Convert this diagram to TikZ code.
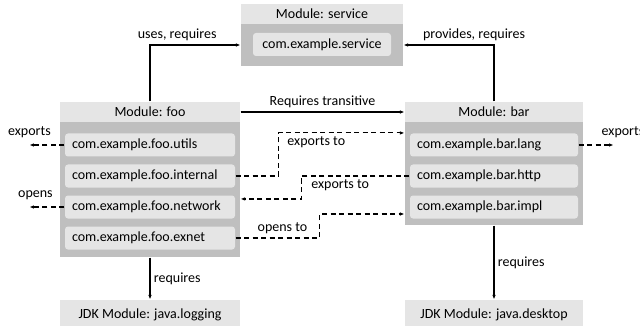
\documentclass[tikz,border=0pt]{standalone}
\usepackage{fontspec}
\setmainfont{Carlito}
\usetikzlibrary{arrows.meta}
\definecolor{headgray}{gray}{0.9}
\definecolor{bodygray}{gray}{0.75}
\definecolor{pkggray}{gray}{0.9}
\begin{document}
\begin{tikzpicture}[x=1pt,y=-1pt,line width=1.1pt,
  >={Latex[length=4.5pt,width=3.5pt]},
  font=\fontsize{14}{16}\selectfont,
  modbody/.style={fill=bodygray,inner sep=0pt},
  modhead/.style={fill=headgray,inner sep=0pt,minimum height=20pt},
  pkg/.style={fill=pkggray,rounded corners=3pt,minimum height=23pt,inner ysep=0pt,
    inner xsep=7pt,align=left},
  jdk/.style={fill=headgray,inner sep=0pt,minimum height=30pt},
  dep/.style={dash pattern=on 5pt off 3.5pt}]
  \useasboundingbox (0,0) rectangle (640,326);
  % service module
  \node[modbody,minimum width=162pt,minimum height=42pt] (svc) at (322,45) {};
  \node[modhead,minimum width=162pt] (svchead) at (322,14) {Module: service};
  \node[pkg,minimum width=138pt,align=center] (service) at (322,44.5) {com.example.service};
  % foo module
  \node[modbody,minimum width=180pt,minimum height=135pt] (foo) at (150,189.5) {};
  \node[modhead,minimum width=180pt] (foohead) at (150,112) {Module: foo};
  \node[pkg,text width=156pt] (utils) at (150,145) {com.example.foo.utils};
  \node[pkg,text width=156pt] (internal) at (150,176) {com.example.foo.internal};
  \node[pkg,text width=156pt] (network) at (150,207) {com.example.foo.network};
  \node[pkg,text width=156pt] (exnet) at (150,238) {com.example.foo.exnet};
  % bar module
  \node[modbody,minimum width=178pt,minimum height=103pt] (bar) at (494,173.5) {};
  \node[modhead,minimum width=178pt] (barhead) at (494,112) {Module: bar};
  \node[pkg,text width=154pt] (lang) at (494,145) {com.example.bar.lang};
  \node[pkg,text width=154pt] (http) at (494,176) {com.example.bar.http};
  \node[pkg,text width=154pt] (impl) at (494,207) {com.example.bar.impl};
  % jdk modules
  \node[jdk,minimum width=180pt] (logging) at (150,315) {JDK Module: java.logging};
  \node[jdk,minimum width=178pt] (desktop) at (494,315) {JDK Module: java.desktop};

  \draw[->] (foohead.north) |- node[above,pos=.65] {uses, requires} (svc.west);
  \draw[->] (barhead.north) |- node[above,pos=.61] {provides, requires} (svc.east);
  \draw[->] (foohead.east) -- node[above] {Requires transitive} (barhead.west);
  \draw[->] (foo.south) -- node[right] {requires} (logging.north);
  \draw[->] (bar.south) -- node[right] {requires} (desktop.north);

  \draw[dep,->] (utils.west) -- ++(-35,0) node[above,yshift=3pt] {exports};
  \draw[dep,->] (network.west) -- ++(-35,0) node[above,yshift=3pt,xshift=6pt] {opens};
  \draw[dep,->] (lang.east) -- node[above right,pos=.55,yshift=3pt] {exports} ++(35,0);
  \draw[dep,->] (internal.east) -- ++(43,0)
    |- node[below right,pos=.52] {exports to} (lang.north -| bar.west);
  \draw[dep,->] (http.west) -- node[below right,pos=1,xshift=6pt] {exports to} ++(-108,0)
    |- ([yshift=-4pt]network.north -| foo.east);
  \draw[dep,->] (exnet.east) -- node[above left,pos=.9] {opens to} ++(84,0)
    |- ([yshift=-7pt]impl.center -| bar.west);
\end{tikzpicture}
\end{document}
